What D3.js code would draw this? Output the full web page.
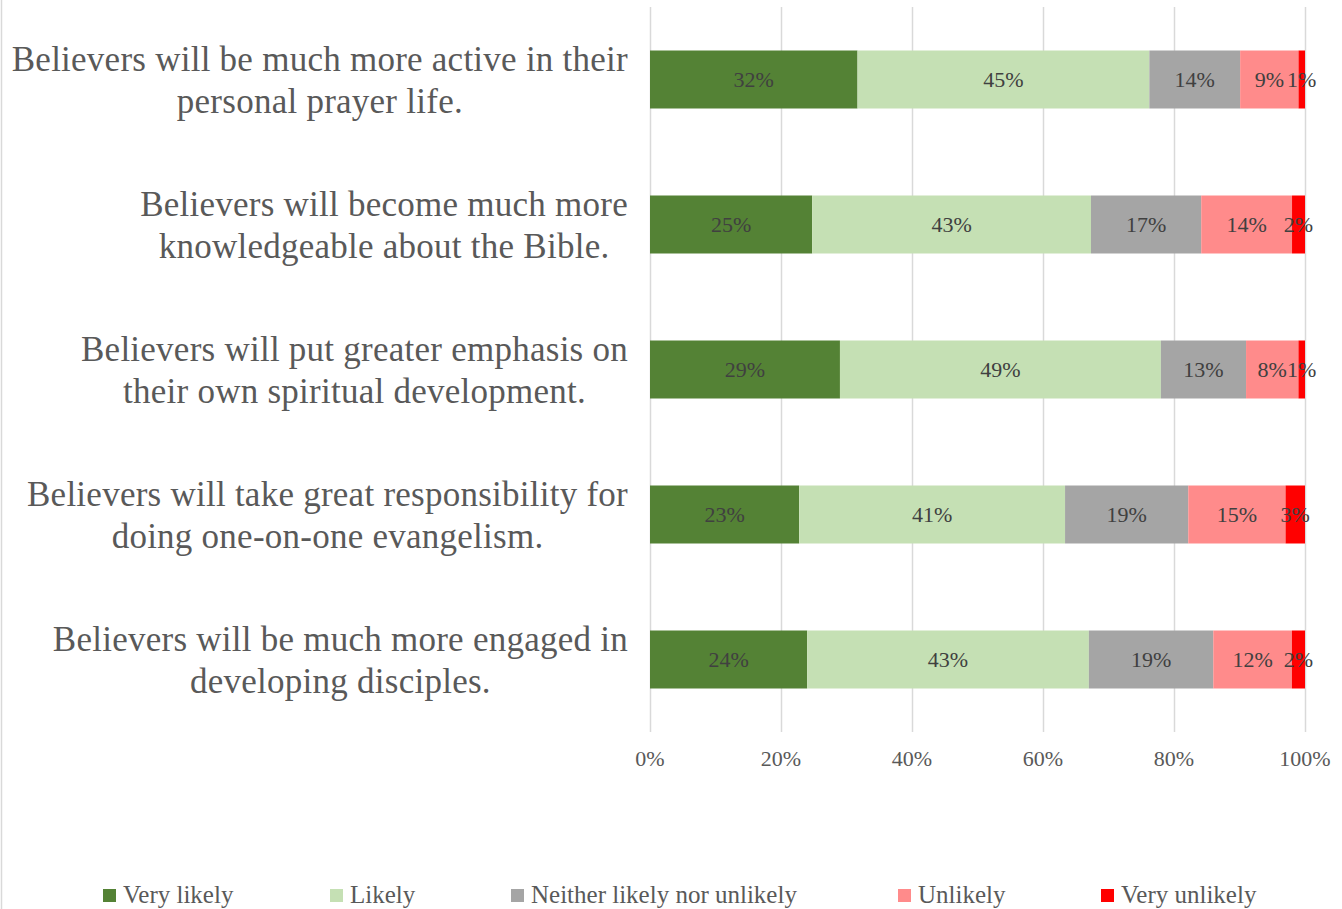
<!DOCTYPE html>
<html>
<head>
<meta charset="utf-8">
<script src="https://cdn.jsdelivr.net/npm/d3@7"></script>
<style>
  html, body { margin: 0; padding: 0; background: #fff; }
  svg text { font-family: "Liberation Serif", "DejaVu Serif", serif; }
</style>
</head>
<body>
<svg id="chart" width="1342" height="909"></svg>
<script>
// Survey statements (each split into its two display lines)
const categories = [
  ["Believers will be much more active in their", "personal prayer life."],
  ["Believers will become much more", "knowledgeable about the Bible."],
  ["Believers will put greater emphasis on", "their own spiritual development."],
  ["Believers will take great responsibility for", "doing one-on-one evangelism."],
  ["Believers will be much more engaged in", "developing disciples."]
];
const seriesNames = ["Very likely", "Likely", "Neither likely nor unlikely", "Unlikely", "Very unlikely"];
const seriesColors = ["#548235", "#C5E0B4", "#A5A5A5", "#FF8B8B", "#FF0000"];

// Percent answering each option, per statement
const veryLikely   = [32, 25, 29, 23, 24];
const likely       = [45, 43, 49, 41, 43];
const neither      = [14, 17, 13, 19, 19];
const unlikely     = [9, 14, 8, 15, 12];
const veryUnlikely = [1, 2, 1, 3, 2];
const tickValues = [0, 0.2, 0.4, 0.6, 0.8, 1.0];

const seriesValues = [veryLikely, likely, neither, unlikely, veryUnlikely];
const rows = categories.map((c, i) => {
  const row = { idx: i };
  seriesNames.forEach((s, j) => row[s] = seriesValues[j][i]);
  return row;
});

const svg = d3.select("#chart");
const plot = { left: 650, right: 1305, top: 7, bottom: 732 };

const x = d3.scaleLinear().domain([0, 1]).range([plot.left, plot.right]);
const y = d3.scaleBand().domain(d3.range(categories.length))
  .range([plot.top, plot.bottom]).paddingInner(0.6).paddingOuter(0.3);

// Outer frame edge on the left
svg.append("line").attr("x1", 1.5).attr("x2", 1.5).attr("y1", 0).attr("y2", 909)
  .attr("stroke", "#d9d9d9").attr("stroke-width", 1.5);

// Vertical gridlines
svg.append("g").selectAll("line").data(tickValues).join("line")
  .attr("x1", d => Math.round(x(d)) + 0.5).attr("x2", d => Math.round(x(d)) + 0.5)
  .attr("y1", plot.top).attr("y2", plot.bottom)
  .attr("stroke", "#d9d9d9").attr("stroke-width", 1.5);

// Stack normalised to 100% per row
const stack = d3.stack().keys(seriesNames).offset(d3.stackOffsetExpand);
const layers = stack(rows);

const g = svg.append("g");
layers.forEach((layer, j) => {
  g.append("g").selectAll("rect").data(layer).join("rect")
    .attr("x", d => x(d[0]))
    .attr("width", d => x(d[1]) - x(d[0]))
    .attr("y", (d, i) => y(i))
    .attr("height", y.bandwidth())
    .attr("fill", seriesColors[j]);
});

// Value labels centred in each segment
layers.forEach((layer, j) => {
  g.append("g").selectAll("text").data(layer).join("text")
    .attr("x", d => (x(d[0]) + x(d[1])) / 2)
    .attr("y", (d, i) => y(i) + y.bandwidth() / 2)
    .attr("dy", "0.35em")
    .attr("text-anchor", "middle")
    .attr("font-size", 22)
    .attr("fill", "#404040")
    .text(d => d.data[layer.key] + "%");
});

// X axis tick labels
svg.append("g").selectAll("text").data(tickValues).join("text")
  .attr("x", d => x(d)).attr("y", 766)
  .attr("text-anchor", "middle")
  .attr("font-size", 22)
  .attr("fill", "#595959")
  .text(d => d3.format(".0%")(d));

// Category labels: lines centred on each other, block right-aligned to the plot
const catG = svg.append("g");
categories.forEach((lines, i) => {
  const t = catG.append("text")
    .attr("font-size", 35)
    .attr("letter-spacing", 0.25)
    .attr("fill", "#595959")
    .attr("text-anchor", "middle");
  const spans = lines.map((ln, k) => t.append("tspan").text(ln));
  const maxW = d3.max(spans, s => s.node().getComputedTextLength());
  const cx = 628 - maxW / 2;
  const cy = y(i) + y.bandwidth() / 2;
  spans.forEach((s, k) => s.attr("x", cx).attr("y", cy - 9 + k * 42));
});

// Legend
const legendX = [103, 330, 511, 898, 1101];
const lg = svg.append("g");
seriesNames.forEach((s, j) => {
  lg.append("rect").attr("x", legendX[j]).attr("y", 889).attr("width", 13).attr("height", 13)
    .attr("fill", seriesColors[j]);
  lg.append("text").attr("x", legendX[j] + 20).attr("y", 903)
    .attr("font-size", 25).attr("fill", "#595959").text(s);
});
</script>
</body>
</html>
